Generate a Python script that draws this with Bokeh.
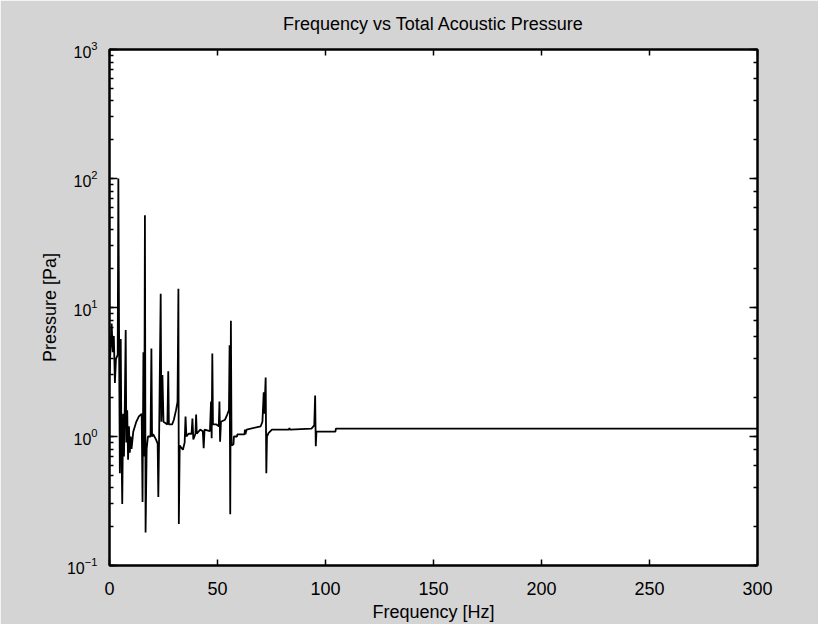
from bokeh.plotting import figure
from bokeh.models import Range1d, LinearAxis, LogAxis, FixedTicker, CustomLabelingPolicy
from bokeh.embed import file_html
from bokeh.resources import INLINE

# Frequency [Hz] and total acoustic pressure [Pa]
freq_hz = [0.0, 0.5, 1.0, 1.5, 2.0, 2.5, 3.0, 3.8, 4.1, 4.5, 4.8, 5.2, 5.5, 5.9,
           6.3, 6.7, 7.1, 7.5, 7.8, 8.2, 8.6, 9.0, 9.4, 9.8, 10.2, 11.0, 12.4,
           13.6, 14.9, 15.3, 15.7, 16.1, 16.4, 16.7, 17.2, 17.8, 19.0, 19.4,
           19.7, 20.2, 21.5, 22.3, 22.6, 23.0, 23.7, 24.0, 24.5, 25.0, 26.8,
           27.2, 27.5, 29.0, 29.8, 30.8, 31.5, 31.9, 32.1, 32.5, 34.0, 34.8,
           35.2, 35.6, 36.6, 38.0, 38.4, 38.8, 39.8, 40.1, 40.4, 42.0, 43.2,
           43.6, 44.0, 46.5, 47.0, 47.3, 47.6, 47.9, 49.5, 50.6, 50.9, 51.2,
           51.6, 53.5, 54.5, 55.3, 55.6, 55.9, 56.2, 56.5, 57.4, 57.6, 59.0,
           59.2, 62.5, 62.7, 62.9, 63.5, 70.0, 70.8, 71.4, 71.7, 72.3, 72.6,
           72.9, 73.6, 75.2, 83.0, 83.3, 83.6, 93.5, 94.8, 95.2, 95.5, 95.8,
           104.6, 104.8, 300.0]
pressure_pa = [3.0, 5.0, 7.5, 4.5, 6.0, 2.6, 4.0, 4.3, 100.0, 3.5, 0.52, 5.7, 1.0, 0.30,
               1.5, 0.7, 1.8, 6.7, 0.9, 1.6, 0.66, 1.2, 0.75, 1.0, 0.8, 1.09, 1.3,
               1.43, 1.5, 0.31, 4.5, 0.7, 52.0, 0.18, 0.8, 1.0, 1.0, 4.8,
               1.0, 1.04, 0.95, 0.88, 0.34, 1.1, 12.8, 1.3, 3.0, 1.3, 1.24,
               3.2, 1.24, 1.24, 1.35, 1.6, 1.86, 14.0, 0.21, 0.85, 0.79, 0.9,
               1.43, 1.0, 1.05, 1.05, 1.38, 0.95, 1.05, 1.48, 1.05, 1.13, 1.1,
               0.81, 1.13, 1.1, 1.87, 0.97, 4.4, 1.24, 1.24, 1.2, 1.87, 0.91,
               1.3, 1.35, 1.48, 1.6, 5.1, 0.25, 7.9, 0.85, 0.87, 1.0, 1.0,
               1.04, 1.04, 1.13, 1.04, 1.13, 1.2, 1.3, 2.2, 1.5, 2.86, 0.52,
               1.0, 1.06, 1.13, 1.13, 1.16, 1.13, 1.15, 1.22, 2.08, 0.84, 1.09,
               1.09, 1.15, 1.15]

x_ticks = [0, 50, 100, 150, 200, 250, 300]
y_min, y_max = 0.1, 1000
title_text = "Frequency vs Total Acoustic Pressure"
x_label = "Frequency [Hz]"
y_label = "Pressure [Pa]"

FONT = "Liberation Sans"
BG = "#d4d4d4"

p = figure(width=818, height=624, y_axis_type="log",
           x_range=Range1d(0, 300), y_range=Range1d(y_min, y_max),
           output_backend="svg", toolbar_location=None,
           title=title_text,
           min_border_left=109, min_border_right=61,
           min_border_top=49, min_border_bottom=58)

p.background_fill_color = "white"
p.border_fill_color = BG
p.outline_line_color = "black"
p.outline_line_width = 2
p.grid.visible = False

p.title.align = "center"
p.title.text_font = FONT
p.title.text_font_size = "18px"
p.title.text_font_style = "normal"
p.title.text_color = "black"

# bottom axis
xa = p.xaxis[0]
xa.ticker = FixedTicker(ticks=x_ticks)
xa.axis_label = x_label
xa.axis_label_text_font = FONT
xa.axis_label_text_font_size = "18px"
xa.axis_label_text_font_style = "normal"
xa.axis_label_text_color = "black"
xa.axis_label_standoff = 4
xa.major_label_text_font = FONT
xa.major_label_text_font_size = "18px"
xa.major_label_text_color = "black"
xa.major_label_standoff = 16
xa.major_tick_in = 6
xa.major_tick_out = 0
xa.minor_tick_in = 0
xa.minor_tick_out = 0
xa.axis_line_width = 2
xa.major_tick_line_width = 1.5

# left axis
ya = p.yaxis[0]
ya.axis_label = y_label
ya.axis_label_text_font = FONT
ya.axis_label_text_font_size = "18px"
ya.axis_label_text_font_style = "normal"
ya.axis_label_text_color = "black"
ya.axis_label_standoff = 4
ya.major_label_text_font = FONT
ya.major_label_text_font_size = "16px"
ya.major_label_text_color = "black"
ya.major_label_standoff = 12
ya.major_tick_in = 8
ya.major_tick_out = 0
ya.minor_tick_in = 4
ya.minor_tick_out = 0
ya.axis_line_width = 2
ya.major_tick_line_width = 1.5
ya.minor_tick_line_width = 1.5

# mirrored axes (box with inward ticks), without labels
no_labels = CustomLabelingPolicy(code="""
const all = [...indices];
for (const i of all) indices.unset(i);
return indices;
""")
no_labels2 = CustomLabelingPolicy(code="""
const all = [...indices];
for (const i of all) indices.unset(i);
return indices;
""")
top = LinearAxis(ticker=FixedTicker(ticks=x_ticks), major_label_policy=no_labels,
                 major_tick_in=6, major_tick_out=0, minor_tick_in=0, minor_tick_out=0,
                 axis_line_width=2, major_tick_line_width=1.5, major_label_standoff=0)
p.add_layout(top, "above")
right = LogAxis(major_label_policy=no_labels2,
                major_tick_in=8, major_tick_out=0, minor_tick_in=4, minor_tick_out=0,
                axis_line_width=2, major_tick_line_width=1.5, minor_tick_line_width=1.5,
                major_label_standoff=0)
p.add_layout(right, "right")

p.line(freq_hz, pressure_pa, line_color="black", line_width=1.8)

open("out.html", "w").write(file_html(p, INLINE))
